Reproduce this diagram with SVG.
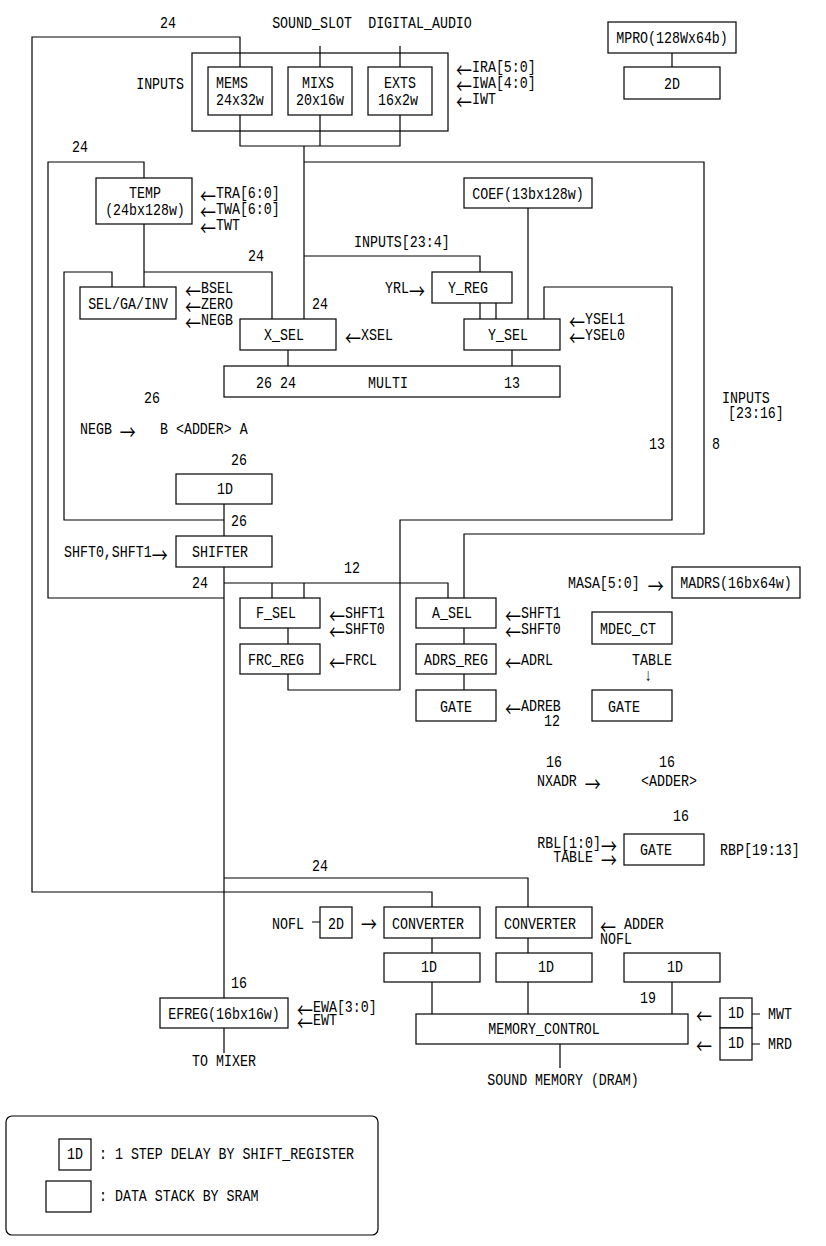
<svg xmlns="http://www.w3.org/2000/svg" width="826" height="1246" viewBox="0 0 826 1246">
<style>
text{font-family:"Liberation Mono","DejaVu Sans Mono",monospace;font-size:13.3px;fill:#000;dominant-baseline:central;transform-box:fill-box;transform-origin:center;transform:scaleY(1.3)}
.a{font-family:"Noto Sans CJK JP","DejaVu Sans",sans-serif;font-size:16px;fill:#000}
.m{text-anchor:middle}
.e{text-anchor:end}
rect.n{fill:#fff;stroke:#000;stroke-width:1.2}
rect.o{fill:none;stroke:#000;stroke-width:1.2}
#connectors path{fill:none;stroke:#000;stroke-width:1.2}
</style>
<rect x="0" y="0" width="826" height="1246" fill="#fff"/>

<g id="inputs-block">
<rect class="o" x="192" y="53" width="256" height="78"/>
<text x="184" y="85" class="e">INPUTS</text>
<text x="456" y="68"><tspan class="a">←</tspan>IRA[5:0]</text>
<text x="456" y="84"><tspan class="a">←</tspan>IWA[4:0]</text>
<text x="456" y="100"><tspan class="a">←</tspan>IWT</text>
</g>
<g id="mems"><rect class="n" x="208" y="67" width="64" height="48"/><text x="216" y="84">MEMS</text><text x="216" y="101">24x32w</text></g>
<g id="mixs"><rect class="n" x="288" y="67" width="64" height="48"/><text x="318" y="84" class="m">MIXS</text><text x="320" y="101" class="m">20x16w</text></g>
<g id="exts"><rect class="n" x="368" y="67" width="64" height="48"/><text x="400" y="84" class="m">EXTS</text><text x="398" y="101" class="m">16x2w</text></g>
<g id="mpro"><rect class="n" x="608" y="22" width="128" height="31"/><text x="672" y="39" class="m">MPRO(128Wx64b)</text></g>
<g id="mpro-2d"><rect class="n" x="624" y="67" width="96" height="32"/><text x="672" y="85" class="m">2D</text></g>
<g id="temp"><rect class="n" x="96" y="178" width="96" height="46"/><text x="145" y="194" class="m">TEMP</text><text x="145" y="211" class="m">(24bx128w)</text>
<text x="200" y="194"><tspan class="a">←</tspan>TRA[6:0]</text><text x="200" y="210"><tspan class="a">←</tspan>TWA[6:0]</text><text x="200" y="226"><tspan class="a">←</tspan>TWT</text></g>
<g id="coef"><rect class="n" x="464" y="178" width="128" height="30"/><text x="528" y="195" class="m">COEF(13bx128w)</text></g>
<g id="selgainv"><rect class="n" x="80" y="287" width="96" height="32"/><text x="128" y="305" class="m">SEL/GA/INV</text>
<text x="185" y="289"><tspan class="a">←</tspan>BSEL</text><text x="185" y="305"><tspan class="a">←</tspan>ZERO</text><text x="185" y="321"><tspan class="a">←</tspan>NEGB</text></g>
<g id="yreg"><rect class="n" x="432" y="272" width="80" height="31"/><text x="468" y="289" class="m">Y_REG</text><text x="385" y="289">YRL<tspan class="a">→</tspan></text></g>
<g id="xsel"><rect class="n" x="240" y="319" width="96" height="31"/><text x="284" y="336" class="m">X_SEL</text><text x="345" y="336"><tspan class="a">←</tspan>XSEL</text></g>
<g id="ysel"><rect class="n" x="464" y="319" width="96" height="31"/><text x="508" y="336" class="m">Y_SEL</text><text x="569" y="320"><tspan class="a">←</tspan>YSEL1</text><text x="569" y="336"><tspan class="a">←</tspan>YSEL0</text></g>
<g id="multi"><rect class="n" x="224" y="366" width="336" height="31"/><text x="256" y="384">26 24</text><text x="368" y="384">MULTI</text><text x="512" y="384" class="m">13</text></g>
<g id="adder1"><text x="152" y="399" class="m">26</text><text x="80" y="430">NEGB <tspan class="a">→</tspan></text><text x="160" y="430">B &lt;ADDER&gt; A</text></g>
<g id="d1"><rect class="n" x="176" y="474" width="96" height="30"/><text x="225" y="490" class="m">1D</text></g>
<g id="shifter"><rect class="n" x="176" y="536" width="96" height="31"/><text x="220" y="553" class="m">SHIFTER</text><text x="64" y="553">SHFT0,SHFT1<tspan class="a">→</tspan></text></g>
<g id="fsel"><rect class="n" x="240" y="598" width="80" height="30"/><text x="276" y="614" class="m">F_SEL</text><text x="329" y="614"><tspan class="a">←</tspan>SHFT1</text><text x="329" y="630"><tspan class="a">←</tspan>SHFT0</text></g>
<g id="frcreg"><rect class="n" x="240" y="644" width="80" height="30"/><text x="276" y="661" class="m">FRC_REG</text><text x="329" y="661"><tspan class="a">←</tspan>FRCL</text></g>
<g id="asel"><rect class="n" x="416" y="598" width="80" height="30"/><text x="452" y="614" class="m">A_SEL</text><text x="505" y="614"><tspan class="a">←</tspan>SHFT1</text><text x="505" y="630"><tspan class="a">←</tspan>SHFT0</text></g>
<g id="adrsreg"><rect class="n" x="416" y="644" width="80" height="30"/><text x="456" y="661" class="m">ADRS_REG</text><text x="505" y="661"><tspan class="a">←</tspan>ADRL</text></g>
<g id="gate1"><rect class="n" x="416" y="690" width="80" height="31"/><text x="456" y="708" class="m">GATE</text><text x="505" y="707"><tspan class="a">←</tspan>ADREB</text><text x="560" y="722" class="e">12</text></g>
<g id="madrs"><rect class="n" x="672" y="567" width="128" height="31"/><text x="736" y="584" class="m">MADRS(16bx64w)</text><text x="568" y="584">MASA[5:0] <tspan class="a">→</tspan></text></g>
<g id="mdecct"><rect class="n" x="592" y="612" width="80" height="32"/><text x="628" y="630" class="m">MDEC_CT</text><text x="652" y="661" class="m">TABLE</text><text x="648" y="677" class="m">↓</text></g>
<g id="gate2"><rect class="n" x="592" y="690" width="80" height="31"/><text x="624" y="708" class="m">GATE</text></g>
<g id="adder2"><text x="554" y="763" class="m">16</text><text x="537" y="782">NXADR <tspan class="a">→</tspan></text><text x="667" y="763" class="m">16</text><text x="669" y="782" class="m">&lt;ADDER&gt;</text></g>
<g id="gate3"><rect class="n" x="624" y="834" width="80" height="31"/><text x="656" y="851" class="m">GATE</text><text x="681" y="817" class="m">16</text>
<text x="617" y="844" class="e">RBL[1:0]<tspan class="a">→</tspan></text><text x="617" y="858" class="e">TABLE <tspan class="a">→</tspan></text><text x="720" y="851">RBP[19:13]</text></g>
<g id="nofl-2d"><rect class="n" x="320" y="907" width="32" height="31"/><text x="336" y="925" class="m">2D</text><text x="272" y="925">NOFL</text><text x="361" y="922"><tspan class="a">→</tspan></text></g>
<g id="conv1"><rect class="n" x="384" y="907" width="96" height="31"/><text x="428" y="925" class="m">CONVERTER</text></g>
<g id="conv2"><rect class="n" x="496" y="907" width="96" height="31"/><text x="540" y="925" class="m">CONVERTER</text><text x="600" y="925"><tspan class="a">←</tspan> ADDER</text><text x="600" y="940">NOFL</text></g>
<g id="d1a"><rect class="n" x="384" y="953" width="96" height="29"/><text x="429" y="968" class="m">1D</text></g>
<g id="d1b"><rect class="n" x="496" y="953" width="96" height="29"/><text x="546" y="968" class="m">1D</text></g>
<g id="d1c"><rect class="n" x="624" y="953" width="96" height="29"/><text x="675" y="968" class="m">1D</text><text x="648" y="999" class="m">19</text></g>
<g id="efreg"><rect class="n" x="160" y="998" width="128" height="30"/><text x="224" y="1015" class="m">EFREG(16bx16w)</text>
<text x="297" y="1008"><tspan class="a">←</tspan>EWA[3:0]</text><text x="297" y="1021"><tspan class="a">←</tspan>EWT</text><text x="239" y="984" class="m">16</text><text x="224" y="1062" class="m">TO MIXER</text></g>
<g id="memctl"><rect class="n" x="416" y="1014" width="272" height="30"/><text x="544" y="1030" class="m">MEMORY_CONTROL</text><text x="563" y="1081" class="m">SOUND MEMORY (DRAM)</text></g>
<g id="mwt"><rect class="n" x="720" y="998" width="32" height="30"/><text x="736" y="1014" class="m">1D</text><text x="704" y="1014" class="m"><tspan class="a">←</tspan></text><text x="768" y="1015">MWT</text></g>
<g id="mrd"><rect class="n" x="720" y="1028" width="32" height="32"/><text x="736" y="1044" class="m">1D</text><text x="704" y="1044" class="m"><tspan class="a">←</tspan></text><text x="768" y="1045">MRD</text></g>
<g id="labels">
<text x="168" y="24" class="m">24</text>
<text x="312" y="24" class="m">SOUND_SLOT</text>
<text x="420" y="24" class="m">DIGITAL_AUDIO</text>
<text x="80" y="148" class="m">24</text>
<text x="354" y="243">INPUTS[23:4]</text>
<text x="256" y="257" class="m">24</text>
<text x="320" y="305" class="m">24</text>
<text x="722" y="399">INPUTS</text>
<text x="728" y="414">[23:16]</text>
<text x="657" y="445" class="m">13</text>
<text x="716" y="445" class="m">8</text>
<text x="239" y="461" class="m">26</text>
<text x="239" y="522" class="m">26</text>
<text x="352" y="569" class="m">12</text>
<text x="200" y="584" class="m">24</text>
<text x="320" y="867" class="m">24</text>
</g>
<g id="legend">
<rect x="6" y="1116" width="372" height="119" rx="6" fill="none" stroke="#000" stroke-width="1.2"/>
<rect class="n" x="59" y="1139" width="32" height="31"/><text x="75" y="1155" class="m">1D</text>
<text x="99" y="1155">: 1 STEP DELAY BY SHIFT_REGISTER</text>
<rect class="n" x="46" y="1181" width="45" height="31"/>
<text x="99" y="1197">: DATA STACK BY SRAM</text>
</g>
<g id="connectors">
<path d="M240,67 V37 H32 V892 H432 V907"/>
<path d="M320,46 V67 M400,46 V67"/>
<path d="M240,115 V146 H400 V115 M320,115 V146"/>
<path d="M304,146 V319"/>
<path d="M304,162 H704 V534 H464 V598"/>
<path d="M304,256 H480 V272"/>
<path d="M528,208 V319"/>
<path d="M480,303 V319 M496,303 V319"/>
<path d="M544,319 V287 H672 V520 H400 V690 H288 V674"/>
<path d="M288,350 V366 M512,350 V366"/>
<path d="M144,178 V162 H48 V598 H224"/>
<path d="M144,224 V287 M144,272 H272 V319"/>
<path d="M112,287 V272 H64 V520 H224"/>
<path d="M224,504 V536 M224,567 V998"/>
<path d="M224,583 H448 V598 M272,583 V598 M304,583 V598"/>
<path d="M288,628 V644 M464,628 V644 M464,674 V690"/>
<path d="M224,878 H528 V907"/>
<path d="M672,53 V67"/>
<path d="M432,938 V953 M432,982 V1014 M528,938 V953 M528,982 V1014 M672,982 V1014"/>
<path d="M224,1028 V1053 M560,1044 V1068"/>
<path d="M312,922 H320 M752,1014 H760 M752,1044 H760"/>
</g>
</svg>
